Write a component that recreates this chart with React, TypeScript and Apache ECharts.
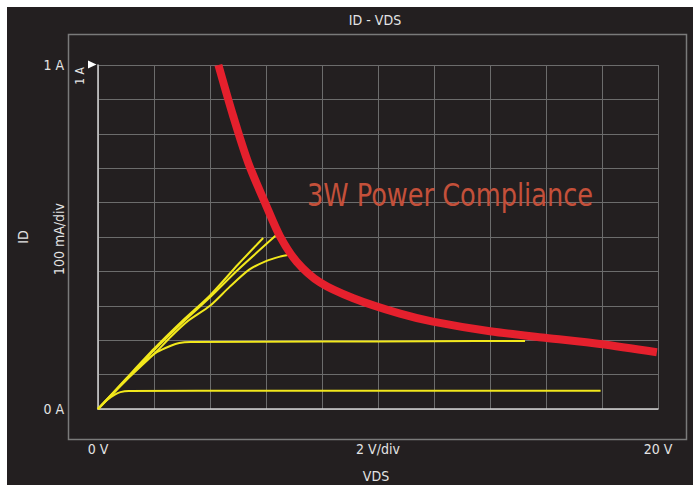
import React, { useEffect, useRef } from "react";
import * as echarts from "echarts";

const xTickLabels: Record<number, string> = { 0: "0 V", 10: "2 V/div", 20: "20 V" };
const yTickLabels: Record<number, string> = { 0: "0 A", 1: "1 A" };

const powerCompliance: [number, number][] = [
  [4.3, 1.0], [4.83, 0.851], [5.37, 0.715], [6.02, 0.589], [6.5, 0.502], [7.1, 0.428],
  [7.93, 0.368], [9.12, 0.322], [10.79, 0.277], [11.96, 0.254], [14, 0.226],
  [15.96, 0.207], [17.93, 0.189], [19.96, 0.165],
];

const trace1: [number, number][] = [
  [0, 0], [0.3, 0.025], [0.6, 0.042], [0.8, 0.049], [1.1, 0.052], [6, 0.053], [12, 0.053], [17.95, 0.053],
];
const trace2: [number, number][] = [
  [0, 0], [0.5, 0.042], [1.0, 0.085], [1.5, 0.127], [2.1, 0.165], [2.6, 0.184], [2.9, 0.192],
  [3.3, 0.195], [8, 0.196], [12, 0.197], [15.25, 0.198],
];
const trace3: [number, number][] = [
  [0, 0], [1, 0.083], [2.1, 0.168], [2.6, 0.21], [3.2, 0.255], [4.0, 0.3], [4.7, 0.355],
  [5.4, 0.405], [6.0, 0.43], [6.5, 0.443], [6.86, 0.449],
];
const trace4: [number, number][] = [
  [0, 0], [1, 0.088], [2, 0.175], [3, 0.255], [4, 0.33], [5, 0.42], [5.9, 0.497],
];
const trace5: [number, number][] = [
  [0, 0], [1, 0.086], [2, 0.171], [3, 0.25], [4, 0.325], [5, 0.405], [6.39, 0.507],
];

const FONT = "'Liberation Sans Narrow', 'DejaVu Sans Condensed', 'DejaVu Sans', sans-serif";
const TXT = "#e4e4e4";
const YELLOW = "#f2e81c";

export default function App() {
  const ref = useRef<HTMLDivElement>(null);
  useEffect(() => {
    if (!ref.current) return;
    const chart = echarts.init(ref.current, undefined, { renderer: "svg" });
    const yellowSeries = [trace1, trace2, trace3, trace4, trace5].map((d, i) => ({
      type: "line" as const,
      name: "trace" + (i + 1),
      data: d,
      showSymbol: false,
      symbol: "none",
      smooth: 0.25,
      lineStyle: { color: YELLOW, width: 2 },
      z: 3,
    }));
    chart.setOption({
      animation: false,
      backgroundColor: "#ffffff",
      grid: { left: 98, top: 65, width: 560, height: 344, containLabel: false },
      xAxis: {
        type: "value",
        min: 0,
        max: 20,
        interval: 2,
        axisLine: { show: true, lineStyle: { color: "#d4d4d4", width: 1.5 } },
        axisTick: { show: false },
        splitLine: { show: true, lineStyle: { color: "#6c6c6c", width: 1 } },
        axisLabel: {
          show: true,
          margin: 33,
          color: TXT,
          fontFamily: FONT,
          fontSize: 14,
          showMinLabel: true,
          showMaxLabel: true,
          formatter: (v: number) => xTickLabels[v] ?? "",
        },
      },
      yAxis: {
        type: "value",
        min: 0,
        max: 1,
        interval: 0.1,
        axisLine: { show: true, lineStyle: { color: "#d4d4d4", width: 1.5 } },
        axisTick: { show: false },
        splitLine: { show: true, lineStyle: { color: "#6c6c6c", width: 1 } },
        axisLabel: {
          show: true,
          margin: 34,
          color: TXT,
          fontFamily: FONT,
          fontSize: 14,
          showMinLabel: true,
          showMaxLabel: true,
          formatter: (v: number) => yTickLabels[Math.round(v * 10) / 10] ?? "",
        },
      },
      graphic: [
        { type: "rect", z: -10, silent: true, shape: { x: 7, y: 7, width: 686, height: 478 }, style: { fill: "#231f20" } },
        { type: "rect", z: -9, silent: true, shape: { x: 68.5, y: 34.5, width: 618, height: 405 }, style: { fill: "none", stroke: "#7a7a7a", lineWidth: 1.5 } },
        { type: "text", x: 375, y: 20, style: { text: "ID - VDS", fill: TXT, font: `14px ${FONT}`, align: "center", verticalAlign: "middle" } },
        { type: "text", x: 376, y: 476, style: { text: "VDS", fill: TXT, font: `14px ${FONT}`, align: "center", verticalAlign: "middle" } },
        { type: "text", x: 23, y: 237, rotation: Math.PI / 2, style: { text: "ID", fill: TXT, font: `14px ${FONT}`, align: "center", verticalAlign: "middle" } },
        { type: "text", x: 59, y: 239, rotation: Math.PI / 2, style: { text: "100 mA/div", fill: TXT, font: `14px ${FONT}`, align: "center", verticalAlign: "middle" } },
        { type: "text", x: 80, y: 76, rotation: Math.PI / 2, style: { text: "1 A", fill: TXT, font: `12px ${FONT}`, align: "center", verticalAlign: "middle" } },
        { type: "polygon", shape: { points: [[88, 60.5], [88, 68.5], [96.5, 64.5]] }, style: { fill: "#ffffff" } },
        { type: "text", x: 450, y: 195, scaleX: 0.89, z: 1, style: { text: "3W Power Compliance", fill: "#c4503a", font: `32px ${FONT}`, align: "center", verticalAlign: "middle" } },
      ],
      series: [
        ...yellowSeries,
        {
          type: "line",
          name: "3W Power Compliance",
          data: powerCompliance,
          showSymbol: false,
          symbol: "none",
          smooth: 0.3,
          lineStyle: { color: "#e5202d", width: 8, cap: "butt" },
          z: 5,
        },
      ],
    });
    return () => chart.dispose();
  }, []);
  return <div ref={ref} style={{ position: "fixed", left: 0, top: 0, width: 693, height: 485 }} />;
}
